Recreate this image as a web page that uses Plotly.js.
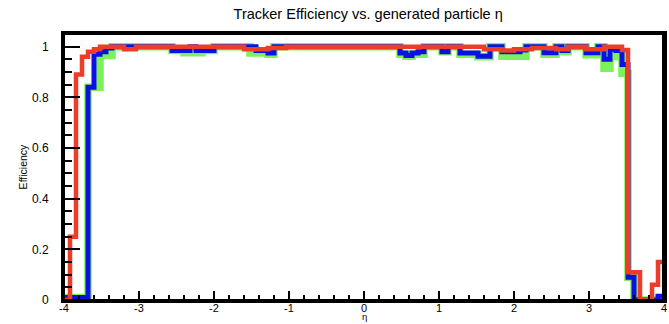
<!DOCTYPE html>
<html>
<head>
<meta charset="utf-8">
<script src="https://cdn.plot.ly/plotly-3.0.1.min.js"></script>
<style>
html,body{margin:0;padding:0;background:#fff;}
#wrap{position:relative;width:669px;height:324px;background:#fff;}
#chart{position:absolute;left:0;top:0;width:669px;height:324px;z-index:1;}
.edge{position:absolute;background:#000;z-index:50;pointer-events:none;}
</style>
</head>
<body>
<div id="wrap">
<div id="chart"></div>
<div class="edge" style="left:62px;top:32px;width:603px;height:3px;"></div>
<div class="edge" style="left:62px;top:299px;width:603px;height:3px;"></div>
<div class="edge" style="left:62px;top:32px;width:3px;height:270px;"></div>
<div class="edge" style="left:662px;top:32px;width:3px;height:270px;"></div>
</div>
<script>
// Histogram binning (100 bins from -4 to 4)
const etaMin = -4;
const etaMax = 4;
const nBins = 100;

// Efficiency per eta bin
const effRed = [
  0, 0.25, 0.89, 0.96, 0.98, 0.99, 1, 1, 1, 1,
  0.99, 0.99, 1, 1, 1, 1, 1, 1, 1, 1,
  1, 1, 1, 1, 1, 1, 1, 1, 1, 1,
  0.99, 0.99, 0.99, 0.99, 0.995, 0.995, 0.995, 1, 1, 1,
  1, 1, 1, 1, 1, 1, 1, 1, 1, 1,
  1, 1, 1, 1, 1, 1, 1, 1, 1, 1,
  1, 1, 1, 1, 1, 1, 1, 1, 1, 1,
  0.99, 0.99, 0.99, 0.985, 0.985, 0.99, 0.99, 0.99, 0.995, 0.995,
  0.995, 0.995, 0.99, 0.99, 1, 1, 1, 0.99, 0.99, 0.99,
  1, 1, 1, 0.987, 0.11, 0.11, 0, 0, 0.06, 0.15
];
const effBlue = [
  0.01, 0.01, 0.01, 0.01, 0.84, 0.97, 0.98, 0.995, 1, 1,
  1, 1, 1, 1, 1, 1, 1, 1, 0.985, 0.985,
  0.985, 1, 0.985, 0.985, 0.985, 1, 1, 1, 1, 1,
  1, 1, 0.985, 0.985, 0.975, 1, 1, 1, 1, 1,
  1, 1, 1, 1, 1, 1, 1, 1, 1, 1,
  1, 1, 1, 1, 1, 1, 0.975, 0.965, 0.975, 0.98,
  1, 1, 1, 0.98, 1, 1, 0.975, 0.975, 0.975, 0.962,
  0.962, 1, 1, 0.98, 0.98, 0.98, 0.987, 1, 1, 1,
  0.976, 0.976, 1, 0.985, 1, 1, 1, 0.976, 0.976, 1,
  0.95, 0.99, 0.985, 0.93, 0.09, 0, 0, 0, 0, 0.015
];
const effGreen = [
  0.01, 0.01, 0.01, 0.01, 0.84, 0.84, 0.965, 0.965, 1, 1,
  1, 1, 1, 1, 1, 1, 1, 1, 0.985, 0.985,
  0.976, 0.976, 0.976, 0.985, 0.985, 1, 1, 1, 1, 1,
  1, 0.975, 0.975, 0.975, 0.97, 1, 1, 1, 1, 1,
  1, 1, 1, 1, 1, 1, 1, 1, 1, 1,
  1, 1, 1, 1, 1, 1, 0.97, 0.962, 0.97, 0.97,
  1, 1, 1, 0.98, 1, 1, 0.97, 0.97, 0.97, 0.96,
  0.96, 1, 1, 0.962, 0.962, 0.962, 0.962, 1, 1, 1,
  0.97, 0.97, 1, 0.98, 1, 1, 1, 0.968, 0.968, 1,
  0.915, 0.96, 0.97, 0.895, 0.09, 0, 0, 0, 0, 0
];

const xTickVals = [-4, -3, -2, -1, 0, 1, 2, 3, 4];
const xTickText = ['-4', '-3', '-2', '-1', '0', '1', '2', '3', '4'];

const binWidth = (etaMax - etaMin) / nBins;
const edges = [];
for (let i = 0; i <= nBins; i++) edges.push(etaMin + i * binWidth);

function stepTrace(vals, color, width) {
  return {
    type: 'scatter',
    mode: 'lines',
    x: edges,
    y: vals.concat([vals[vals.length - 1]]),
    line: {shape: 'hv', color: color, width: width},
    hoverinfo: 'skip',
    showlegend: false
  };
}

const data = [
  stepTrace(effGreen, '#7cf25a', 7.5),
  stepTrace(effBlue, '#0c10e4', 5),
  stepTrace(effRed, '#ee3b2a', 4.5)
];

const FONT = 'Liberation Sans, Arial, sans-serif';
const NB = '\u00a0';

const layout = {
  width: 669,
  height: 324,
  margin: {l: 64, r: 5, t: 34, b: 24},
  paper_bgcolor: 'rgba(0,0,0,0)',
  plot_bgcolor: 'rgba(0,0,0,0)',
  showlegend: false,
  title: {
    text: 'Tracker Efficiency vs. generated particle η',
    font: {family: FONT, size: 14.5, color: '#000'},
    x: 0.507, xref: 'paper', xanchor: 'center',
    y: 1 - 14 / 324, yref: 'container', yanchor: 'middle'
  },
  xaxis: {
    range: [etaMin, etaMax],
    tickmode: 'array',
    tickvals: xTickVals,
    ticktext: xTickText,
    ticks: 'inside', ticklen: 9, tickwidth: 2, tickcolor: '#000000',
    minor: {ticks: 'inside', dtick: 0.2, ticklen: 5, tickwidth: 2, tickcolor: '#000000'},
    showgrid: false, zeroline: false,
    showline: true, mirror: true, linecolor: '#000000', linewidth: 3,
    tickfont: {family: FONT, size: 11, color: '#000'},
    ticklabelstandoff: -4
  },
  yaxis: {
    range: [0, 1.05],
    dtick: 0.2, tick0: 0,
    ticks: 'inside', ticklen: 16, tickwidth: 2, tickcolor: '#000000',
    minor: {ticks: 'inside', dtick: 0.05, ticklen: 8, tickwidth: 2, tickcolor: '#000000'},
    showgrid: false, zeroline: false,
    showline: true, mirror: true, linecolor: '#000000', linewidth: 3,
    tickfont: {family: FONT, size: 12, color: '#000'},
    ticksuffix: NB + NB + NB,
    title: {text: 'Efficiency', font: {family: FONT, size: 10.5, color: '#000'}, standoff: 3}
  },
  annotations: [{
    text: 'η',
    xref: 'paper', x: 0.5, xanchor: 'center',
    yref: 'paper', y: -24 / 266, yanchor: 'bottom',
    showarrow: false,
    font: {family: FONT, size: 9.5, color: '#000'}
  }]
};

Plotly.newPlot('chart', data, layout, {displayModeBar: false});
</script>
</body>
</html>
